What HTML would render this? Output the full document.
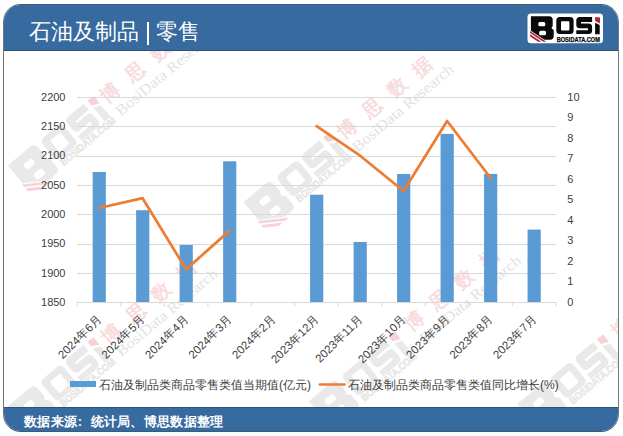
<!DOCTYPE html>
<html><head><meta charset="utf-8">
<style>
html,body{margin:0;padding:0;background:#fff;}
body{width:623px;height:436px;overflow:hidden;position:relative;font-family:"Liberation Sans",sans-serif;}
.frame{position:absolute;left:3px;top:4px;width:614px;height:426px;border:1px solid #3d5b79;border-left-color:#6e7479;border-right-color:#6e7a80;border-radius:18px;overflow:hidden;background:#fff;}
.hdr{position:absolute;left:0;top:0;width:100%;height:45px;background:#376a9e;border-bottom:1px solid #2e5275;}
.ftr{position:absolute;left:0;bottom:0;width:100%;height:23px;background:#376a9e;border-top:1px solid #2e5275;}
.title{position:absolute;left:27px;top:17.3px;color:#fff;font-size:21.5px;font-weight:500;line-height:1;white-space:nowrap;}
.bar{position:absolute;left:142.6px;top:16.5px;width:2.4px;height:23px;background:#fff;}
.src{position:absolute;left:20px;top:7px;color:#fff;font-size:13px;letter-spacing:0.28px;line-height:1;font-weight:bold;white-space:nowrap;}
svg{position:absolute;left:0;top:0;}
</style></head>
<body>
<div class="frame">
  <div class="hdr"><div class="title" style="left:25.3px">石油及制品</div><div class="bar"></div><div class="title" style="left:152px">零售</div></div>
  <div class="ftr"><div class="src">数据来源<span style="display:inline-block;width:13.5px;padding-left:0.6px;box-sizing:border-box">:</span>统计局、博思数据整理</div></div>
</div>
<svg width="623" height="436" viewBox="0 0 623 436" font-family="Liberation Sans, sans-serif">
  <defs>
    <g id="logoShapes">
      <path style="fill:var(--k)" fill-rule="evenodd" d="M3.4,2.7 L21.7,2.7 Q25.2,2.7 25.2,6.4 L25.2,12.4 L24,14.4 L26.2,16.8 L26.2,22.6 Q26.2,26.2 22.6,26.2 L16.9,26.2 L3.4,17.2 Z M12.3,8.5 L16.3,8.5 Q17.8,8.5 17.8,10 L17.8,11.2 Q17.8,12.7 16.3,12.7 L12.3,12.7 Q10.8,12.7 10.8,11.2 L10.8,10 Q10.8,8.5 12.3,8.5 Z M13.2,17.2 L17,17.2 Q18.5,17.2 18.5,18.7 L18.5,20.2 Q18.5,21.7 17,21.7 L13.2,21.7 Q11.7,21.7 11.7,20.2 L11.7,18.7 Q11.7,17.2 13.2,17.2 Z"/>
      <path style="fill:var(--r)" d="M2.6,17.5 L18.8,28.3 L15.8,28.3 L2.6,19.5 Z M2.6,20.7 L14,28.3 L10.6,28.3 L2.6,23.0 Z"/>
      <path style="fill:var(--k)" fill-rule="evenodd" d="M32.3,3.6 L42.6,3.6 Q46.1,3.6 46.1,7.1 L46.1,17 Q46.1,20.5 42.6,20.5 L32.3,20.5 Q28.8,20.5 28.8,17 L28.8,7.1 Q28.8,3.6 32.3,3.6 Z M34.5,7.8 L40.9,7.8 Q41.9,7.8 41.9,8.8 L41.9,16.1 Q41.9,17.1 40.9,17.1 L34.5,17.1 Q33.5,17.1 33.5,16.1 L33.5,8.8 Q33.5,7.8 34.5,7.8 Z"/>
      <path style="fill:var(--k)" d="M52.3,3.6 L64.6,3.6 L64.6,8.6 L53.5,8.6 L53.5,10.1 L61.1,10.1 Q64.6,10.1 64.6,13.6 L64.6,17 Q64.6,20.5 61.1,20.5 L48.8,20.5 L48.8,16.7 L60.5,16.7 L60.5,14.8 L52.3,14.8 Q48.8,14.8 48.8,11.3 L48.8,7.1 Q48.8,3.6 52.3,3.6 Z"/>
      <path style="fill:var(--k)" d="M67.6,9.2 L72.2,11.4 L72.2,20.7 L67.6,20.7 Z"/>
      <path style="fill:var(--r)" d="M67.6,3.6 L72.6,4.1 L72.4,9.9 L67.6,7.6 Z"/>
    </g>
    <g id="logoText"><text x="29.2" y="28.4" textLength="43.2" lengthAdjust="spacingAndGlyphs" font-size="6.6" font-weight="bold" style="fill:var(--k);stroke:var(--k);stroke-width:0.25">BOSIDATA.COM</text></g>
    <clipPath id="bodyclip"><rect x="4" y="51" width="614" height="356"/></clipPath>
  </defs>
  <g id="watermarks" clip-path="url(#bodyclip)"><g transform="translate(109.5,92.0) rotate(-40)"><use href="#logoShapes" transform="translate(0.0,4.5) translate(-130.6,-17.9) scale(1.6)" style="--k:#e9e9e9;--r:#f5d3d6"/><use href="#logoText" transform="translate(1.0,0.0) translate(-130.6,-17.9) scale(1.6)" style="--k:#e6e6e6"/><text x="0.0" y="8" font-size="19" font-weight="bold" fill="#f8dcdd" text-anchor="middle">博</text><text x="32.5" y="8" font-size="19" font-weight="bold" fill="#f8dcdd" text-anchor="middle">思</text><text x="65.0" y="8" font-size="19" font-weight="bold" fill="#f8dcdd" text-anchor="middle">数</text><text x="97.5" y="8" font-size="19" font-weight="bold" fill="#f8dcdd" text-anchor="middle">据</text><text x="-7" y="26" textLength="127" lengthAdjust="spacingAndGlyphs" font-family="Liberation Serif, serif" font-size="15" fill="#e3e3e3">BosiData Research</text></g><g transform="translate(346.0,128.0) rotate(-40)"><use href="#logoShapes" transform="translate(-1.0,4.5) translate(-130.6,-17.9) scale(1.6)" style="--k:#e9e9e9;--r:#f5d3d6"/><use href="#logoText" transform="translate(0.0,0.0) translate(-130.6,-17.9) scale(1.6)" style="--k:#e6e6e6"/><text x="0.0" y="8" font-size="19" font-weight="bold" fill="#f8dcdd" text-anchor="middle">博</text><text x="32.5" y="8" font-size="19" font-weight="bold" fill="#f8dcdd" text-anchor="middle">思</text><text x="65.0" y="8" font-size="19" font-weight="bold" fill="#f8dcdd" text-anchor="middle">数</text><text x="97.5" y="8" font-size="19" font-weight="bold" fill="#f8dcdd" text-anchor="middle">据</text><text x="-7" y="26" textLength="127" lengthAdjust="spacingAndGlyphs" font-family="Liberation Serif, serif" font-size="15" fill="#e3e3e3">BosiData Research</text></g><g transform="translate(110.0,332.5) rotate(-40)"><use href="#logoShapes" transform="translate(-1.0,4.5) translate(-130.6,-17.9) scale(1.6)" style="--k:#e9e9e9;--r:#f5d3d6"/><use href="#logoText" transform="translate(0.0,0.0) translate(-130.6,-17.9) scale(1.6)" style="--k:#e6e6e6"/><text x="0.0" y="8" font-size="19" font-weight="bold" fill="#f8dcdd" text-anchor="middle">博</text><text x="32.5" y="8" font-size="19" font-weight="bold" fill="#f8dcdd" text-anchor="middle">思</text><text x="65.0" y="8" font-size="19" font-weight="bold" fill="#f8dcdd" text-anchor="middle">数</text><text x="97.5" y="8" font-size="19" font-weight="bold" fill="#f8dcdd" text-anchor="middle">据</text><text x="-7" y="26" textLength="127" lengthAdjust="spacingAndGlyphs" font-family="Liberation Serif, serif" font-size="15" fill="#e3e3e3">BosiData Research</text></g><g transform="translate(413.4,319.4) rotate(-40)"><use href="#logoShapes" transform="translate(-7.5,9.0) translate(-130.6,-17.9) scale(1.6)" style="--k:#e9e9e9;--r:#f5d3d6"/><use href="#logoText" transform="translate(-6.5,4.5) translate(-130.6,-17.9) scale(1.6)" style="--k:#e6e6e6"/><text x="0.0" y="8" font-size="19" font-weight="bold" fill="#f8dcdd" text-anchor="middle">博</text><text x="32.5" y="8" font-size="19" font-weight="bold" fill="#f8dcdd" text-anchor="middle">思</text><text x="65.0" y="8" font-size="19" font-weight="bold" fill="#f8dcdd" text-anchor="middle">数</text><text x="97.5" y="8" font-size="19" font-weight="bold" fill="#f8dcdd" text-anchor="middle">据</text><text x="-7" y="26" textLength="127" lengthAdjust="spacingAndGlyphs" font-family="Liberation Serif, serif" font-size="15" fill="#e3e3e3">BosiData Research</text></g><g transform="translate(619.8,327.0) rotate(-40)"><use href="#logoShapes" transform="translate(-3.0,6.5) translate(-130.6,-17.9) scale(1.6)" style="--k:#e9e9e9;--r:#f5d3d6"/><use href="#logoText" transform="translate(-2.0,2.0) translate(-130.6,-17.9) scale(1.6)" style="--k:#e6e6e6"/><text x="0.0" y="8" font-size="19" font-weight="bold" fill="#f8dcdd" text-anchor="middle">博</text><text x="32.5" y="8" font-size="19" font-weight="bold" fill="#f8dcdd" text-anchor="middle">思</text><text x="65.0" y="8" font-size="19" font-weight="bold" fill="#f8dcdd" text-anchor="middle">数</text><text x="97.5" y="8" font-size="19" font-weight="bold" fill="#f8dcdd" text-anchor="middle">据</text><text x="-7" y="26" textLength="127" lengthAdjust="spacingAndGlyphs" font-family="Liberation Serif, serif" font-size="15" fill="#e3e3e3">BosiData Research</text></g></g>
  <!-- gridlines -->
  <g stroke="#d9d9d9" stroke-width="1">
    <line x1="77" y1="97.5" x2="556" y2="97.5"/>
    <line x1="77" y1="126.5" x2="556" y2="126.5"/>
    <line x1="77" y1="156.5" x2="556" y2="156.5"/>
    <line x1="77" y1="185.5" x2="556" y2="185.5"/>
    <line x1="77" y1="214.5" x2="556" y2="214.5"/>
    <line x1="77" y1="244.5" x2="556" y2="244.5"/>
    <line x1="77" y1="273.5" x2="556" y2="273.5"/>
  </g>
  <!-- bars -->
  <g fill="#5b9bd5">
    <rect x="92.65" y="172.0" width="13.2" height="130.4"/>
    <rect x="136.13" y="210.2" width="13.2" height="92.2"/>
    <rect x="179.62" y="245.0" width="13.2" height="57.4"/>
    <rect x="223.12" y="161.3" width="13.2" height="141.1"/>
    <rect x="310.10" y="194.7" width="13.2" height="107.7"/>
    <rect x="353.59" y="242.0" width="13.2" height="60.4"/>
    <rect x="397.08" y="174.0" width="13.2" height="128.4"/>
    <rect x="440.57" y="133.9" width="13.2" height="168.5"/>
    <rect x="484.06" y="173.9" width="13.2" height="128.5"/>
    <rect x="527.55" y="229.6" width="13.2" height="72.8"/>
  </g>
  <!-- axis -->
  <g stroke="#d9d9d9" stroke-width="1">
    <line x1="77" y1="302.5" x2="556" y2="302.5"/>
    <line x1="77.4" y1="302" x2="77.4" y2="306.5"/><line x1="120.9" y1="302" x2="120.9" y2="306.5"/><line x1="164.4" y1="302" x2="164.4" y2="306.5"/><line x1="207.9" y1="302" x2="207.9" y2="306.5"/><line x1="251.4" y1="302" x2="251.4" y2="306.5"/><line x1="294.9" y1="302" x2="294.9" y2="306.5"/><line x1="338.3" y1="302" x2="338.3" y2="306.5"/><line x1="381.8" y1="302" x2="381.8" y2="306.5"/><line x1="425.3" y1="302" x2="425.3" y2="306.5"/><line x1="468.8" y1="302" x2="468.8" y2="306.5"/><line x1="512.3" y1="302" x2="512.3" y2="306.5"/><line x1="555.8" y1="302" x2="555.8" y2="306.5"/>
  </g>
  <!-- line -->
  <g fill="none" stroke="#ed7d31" stroke-width="2.75" stroke-linejoin="round" stroke-linecap="round">
    <polyline points="99.1,208 142.6,198.2 186.1,269.4 229.6,230.6"/>
    <polyline points="316.6,126.2 360.1,155.7 403.6,191 447.1,121 490.6,178"/>
  </g>
  <!-- left axis labels -->
  <g font-size="11" fill="#404040" text-anchor="end">
    <text x="65.5" y="100.6">2200</text>
    <text x="65.5" y="129.9">2150</text>
    <text x="65.5" y="159.3">2100</text>
    <text x="65.5" y="188.6">2050</text>
    <text x="65.5" y="217.9">2000</text>
    <text x="65.5" y="247.2">1950</text>
    <text x="65.5" y="276.5">1900</text>
    <text x="65.5" y="305.8">1850</text>
  </g>
  <!-- right axis labels -->
  <g font-size="11" fill="#404040" text-anchor="start">
    <text x="567.3" y="305.8">0</text>
    <text x="567.3" y="285.3">1</text>
    <text x="567.3" y="264.8">2</text>
    <text x="567.3" y="244.2">3</text>
    <text x="567.3" y="223.7">4</text>
    <text x="567.3" y="203.2">5</text>
    <text x="567.3" y="182.7">6</text>
    <text x="567.3" y="162.2">7</text>
    <text x="567.3" y="141.6">8</text>
    <text x="567.3" y="121.1">9</text>
    <text x="567.3" y="100.6">10</text>
  </g>
  <!-- x labels -->
  <g font-size="11.5" fill="#404040" text-anchor="end">
    <text transform="translate(102.4,319.8) rotate(-45)">2024年6月</text>
    <text transform="translate(145.9,319.8) rotate(-45)">2024年5月</text>
    <text transform="translate(189.4,319.8) rotate(-45)">2024年4月</text>
    <text transform="translate(232.9,319.8) rotate(-45)">2024年3月</text>
    <text transform="translate(276.4,319.8) rotate(-45)">2024年2月</text>
    <text transform="translate(319.9,319.8) rotate(-45)">2023年12月</text>
    <text transform="translate(363.4,319.8) rotate(-45)">2023年11月</text>
    <text transform="translate(406.9,319.8) rotate(-45)">2023年10月</text>
    <text transform="translate(450.4,319.8) rotate(-45)">2023年9月</text>
    <text transform="translate(493.9,319.8) rotate(-45)">2023年8月</text>
    <text transform="translate(537.4,319.8) rotate(-45)">2023年7月</text>
  </g>
  <!-- legend -->
  <rect x="70" y="381" width="26" height="6" fill="#5b9bd5"/>
  <text x="99" y="388.5" font-size="12" fill="#404040">石油及制品类商品零售类值当期值(亿元)</text>
  <line x1="319.8" y1="384.6" x2="344.6" y2="384.6" stroke="#ed7d31" stroke-width="2.5" stroke-linecap="round"/>
  <text x="348" y="388.5" font-size="12" fill="#404040">石油及制品类商品零售类值同比增长(%)</text>
  <!-- header logo -->
  <g transform="translate(527.5,13.5)" style="--k:#0a0a0a;--r:#b0283f">
    <rect x="0" y="0" width="75.5" height="29.7" rx="3.5" fill="#fff"/>
    <use href="#logoShapes"/>
    <use href="#logoText"/>
  </g>
</svg>
</body></html>
